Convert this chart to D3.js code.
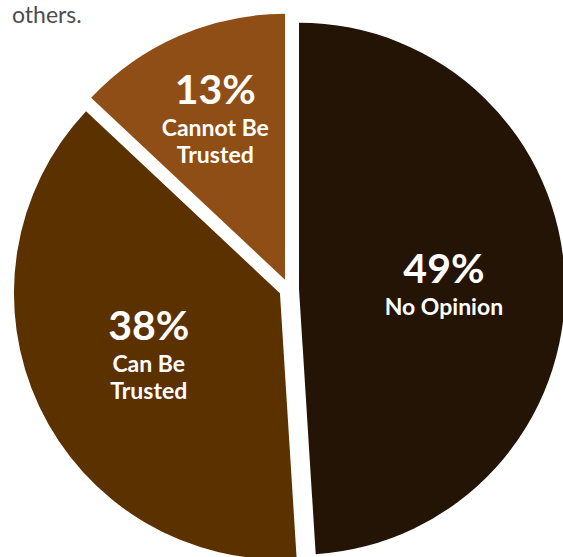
<!DOCTYPE html>
<html>
<head>
<meta charset="utf-8">
<script src="https://cdn.jsdelivr.net/npm/d3@7"></script>
<style>
  html, body { margin: 0; padding: 0; background: #fff; }
  svg { display: block; }
</style>
</head>
<body>
<svg id="chart" width="563" height="557"></svg>
<script>
// Survey answers: share of respondents per answer
const categories = ["No Opinion", "Can Be Trusted", "Cannot Be Trusted"];
const values = [49, 38, 13];
const labelLines = [["No Opinion"], ["Can Be", "Trusted"], ["Cannot Be", "Trusted"]];
const colors = ["#231405", "#5c3100", "#8f4e15"];
const leadText = "others.";

const width = 563, height = 557;
const cx = 289, cy = 289;
const radius = 266;
const explode = 10;        // how far each wedge is pushed out from the centre
const labelMin = 145;      // default distance of the label block from the wedge tip
const labelHalfWidth = 76; // room the label needs on each side of the bisector
const gapBig = 32;         // percentage baseline -> first name line
const gapLine = 27;        // between name lines

const svg = d3.select("#chart");

// Tail of the paragraph above the chart
svg.append("text")
  .attr("x", 12)
  .attr("y", 23)
  .attr("font-family", "Lato, sans-serif")
  .attr("font-size", 23)
  .attr("fill", "#4d4d4d")
  .text(leadText);

const data = categories.map((c, i) => ({ name: c, value: values[i], lines: labelLines[i], color: colors[i] }));

const pie = d3.pie().sort(null).value(d => d.value).startAngle(0).endAngle(2 * Math.PI);
const arc = d3.arc().innerRadius(0).outerRadius(radius);

const slices = svg.append("g")
  .attr("transform", `translate(${cx},${cy})`)
  .selectAll("g.slice")
  .data(pie(data))
  .join("g")
  .attr("class", "slice")
  .attr("transform", d => {
    const a = (d.startAngle + d.endAngle) / 2;
    return `translate(${explode * Math.sin(a)},${-explode * Math.cos(a)})`;
  });

slices.append("path")
  .attr("d", arc)
  .attr("fill", d => d.data.color);

// narrow wedges push their label further out so the text fits inside
function labelDist(d) {
  const half = (d.endAngle - d.startAngle) / 2;
  return Math.max(labelMin, labelHalfWidth / Math.tan(Math.min(half, 1.5)));
}

const labels = slices.append("g")
  .attr("transform", d => {
    const a = (d.startAngle + d.endAngle) / 2;
    const r = labelDist(d);
    return `translate(${r * Math.sin(a)},${-r * Math.cos(a)})`;
  })
  .attr("font-family", "Lato, sans-serif")
  .attr("font-weight", "bold")
  .attr("fill", "#fff")
  .attr("text-anchor", "middle");

labels.each(function(d) {
  const g = d3.select(this);
  const n = d.data.lines.length;
  // block: big percentage, then 1–2 lines of category text
  const blockH = 30 + gapBig + gapLine * (n - 1);
  let y = -blockH / 2 + 30;
  g.append("text")
    .attr("y", y)
    .attr("font-size", 41)
    .text(d.data.value + "%");
  y += gapBig;
  d.data.lines.forEach(line => {
    g.append("text")
      .attr("y", y)
      .attr("font-size", 23)
      .text(line);
    y += gapLine;
  });
});
</script>
</body>
</html>
